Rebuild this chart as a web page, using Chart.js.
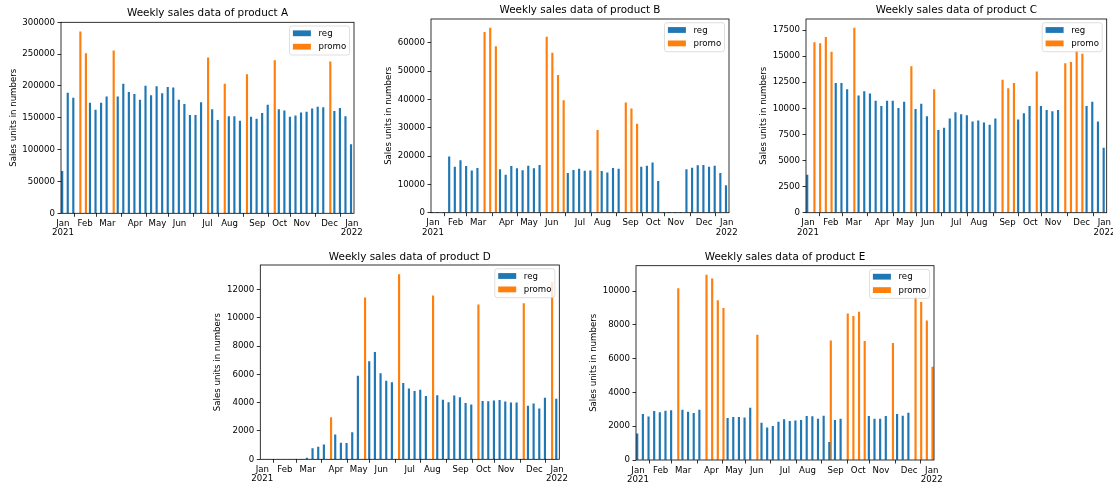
<!DOCTYPE html>
<html><head><meta charset="utf-8">
<script src="https://cdn.jsdelivr.net/npm/chart.js@4.4.1/dist/chart.umd.min.js"></script>
<style>
html,body{margin:0;padding:0;background:#fff;width:1113px;height:488px;overflow:hidden;position:relative}
canvas{position:absolute;left:0;top:0}
</style></head><body>
<script>
const _ = null;
// month tick positions (week index) and labels
const monthWeeks = [0,4,8,13,17,21,26,30,35,39,43,48,52];
const monthLabels = ['Jan','Feb','Mar','Apr','May','Jun','Jul','Aug','Sep','Oct','Nov','Dec','Jan'];
const yearLabels = {0:'2021', 52:'2022'};
const seriesNames = ['reg','promo'];
const yAxisLabel = 'Sales units in numbers';

// Product A (weeks 0..52)
const A_reg = [66000,189000,181000,_,_,173000,162000,173000,183000,_,
  183000,203000,190000,187000,178000,200000,185000,199000,188000,198000,
  197000,178000,171000,154000,154000,174000,_,163000,146000,_,
  152000,152000,145000,_,151000,148000,157000,170000,_,163000,
  161000,151000,153000,158000,159000,164000,167000,166000,_,160000,
  165000,152000,108000];
const A_promo = [_,_,_,285000,251000,_,_,_,_,255000,
  _,_,_,_,_,_,_,_,_,_,
  _,_,_,_,_,_,244000,_,_,203000,
  _,_,_,218000,_,_,_,_,240000,_,
  _,_,_,_,_,_,_,_,238000,_,
  _,_,_];
const A_yTicks = [0,50000,100000,150000,200000,250000,300000];

// Product B
const B_reg = [0,0,0,19700,16100,18400,16400,14800,15700,_,
  _,_,15200,13300,16400,15600,14900,16500,15600,16700,
  _,_,_,_,13900,15000,15400,14700,14800,_,
  14600,14100,15700,15400,_,_,_,16100,16500,17600,
  11100,0,0,0,0,15200,15800,16600,16700,16100,
  16500,13900,9600];
const B_promo = [_,_,_,_,_,_,_,_,_,63700,
  65200,58700,_,_,_,_,_,_,_,_,
  62000,56400,48500,39600,_,_,_,_,_,29100,
  _,_,_,_,38800,36700,31300,_,_,_,
  _,_,_,_,_,_,_,_,_,_,
  _,_,_];
const B_yTicks = [0,10000,20000,30000,40000,50000,60000];

// Product C
const C_reg = [3600,_,_,_,_,12400,12400,11800,_,11200,
  11600,11400,10700,10200,10700,10700,10000,10600,_,9900,
  10400,9200,_,7900,8100,9000,9600,9400,9300,8700,
  8800,8600,8400,9000,_,_,_,8900,9500,10200,
  _,10200,9800,9700,9800,_,_,_,_,10200,
  10600,8700,6200];
const C_promo = [_,16300,16200,16800,15400,_,_,_,17700,_,
  _,_,_,_,_,_,_,_,14000,_,
  _,_,11800,_,_,_,_,_,_,_,
  _,_,_,_,12700,11900,12400,_,_,_,
  13500,_,_,_,_,14300,14400,15500,15200,_,
  _,_,_];
const C_yTicks = [0,2500,5000,7500,10000,12500,15000,17500];

// Product D
const D_reg = [0,0,0,0,0,0,0,0,80,750,
  870,1030,_,1720,1150,1120,1880,5870,_,6900,
  7550,6050,5530,5420,_,5370,4980,4800,4880,4450,
  _,4500,4180,4000,4480,4350,3950,3850,_,4100,
  4080,4130,4170,4050,3980,3980,_,3750,3920,3560,
  4330,_,4250];
const D_promo = [_,_,_,_,_,_,_,_,_,_,
  _,_,2950,_,_,_,_,_,11400,_,
  _,_,_,_,13050,_,_,_,_,_,
  11550,_,_,_,_,_,_,_,10900,_,
  _,_,_,_,_,_,11000,_,_,_,
  _,12500,_];
const D_yTicks = [0,2000,4000,6000,8000,10000,12000];

// Product E
const E_reg = [1550,2700,2550,2880,2800,2900,2930,_,2960,2830,
  2760,2950,_,_,_,_,2460,2530,2530,2490,
  3070,_,2190,1900,2000,2250,2390,2290,2320,2350,
  2590,2570,2420,2600,1050,2350,2420,_,_,_,
  _,2590,2420,2420,2580,_,2700,2600,2780,_,
  _,_,_];
const E_promo = [_,_,_,_,_,_,_,10150,_,_,
  _,_,10950,10720,9430,8970,_,_,_,_,
  _,7400,_,_,_,_,_,_,_,_,
  _,_,_,_,7050,_,_,8650,8500,8750,
  7020,_,_,_,_,6900,_,_,_,9650,
  9330,8230,5500];
const E_yTicks = [0,2000,4000,6000,8000,10000];

const COLORS = ['#1f77b4','#ff7f0e'];
const FONT = 'DejaVu Sans';
const W = 1113, H = 520;

const panels = [
  {title:'Weekly sales data of product A', reg:A_reg, promo:A_promo, yMax:300000, yTicks:A_yTicks, l:61, t:22.3, r:354, b:213.3, titleY:13.3, ylabX:13.3},
  {title:'Weekly sales data of product B', reg:B_reg, promo:B_promo, yMax:68400, yTicks:B_yTicks, l:431, t:19, r:729, b:212.7, titleY:10, ylabX:388.3},
  {title:'Weekly sales data of product C', reg:C_reg, promo:C_promo, yMax:18560, yTicks:C_yTicks, l:806, t:19, r:1106.7, b:212.7, titleY:10, ylabX:763.3},
  {title:'Weekly sales data of product D', reg:D_reg, promo:D_promo, yMax:13720, yTicks:D_yTicks, l:260.3, t:265, r:559.3, b:459.3, titleY:257.3, ylabX:217.7},
  {title:'Weekly sales data of product E', reg:E_reg, promo:E_promo, yMax:11500, yTicks:E_yTicks, l:636, t:265.7, r:934, b:460, titleY:257.3, ylabX:593.3}
];

function roundRect(ctx, x, y, w, h, r){
  ctx.beginPath();
  ctx.moveTo(x+r,y); ctx.lineTo(x+w-r,y); ctx.quadraticCurveTo(x+w,y,x+w,y+r);
  ctx.lineTo(x+w,y+h-r); ctx.quadraticCurveTo(x+w,y+h,x+w-r,y+h);
  ctx.lineTo(x+r,y+h); ctx.quadraticCurveTo(x,y+h,x,y+h-r);
  ctx.lineTo(x,y+r); ctx.quadraticCurveTo(x,y,x+r,y); ctx.closePath();
}

const deco = {
  id:'deco',
  afterDatasetsDraw(chart){
    const {ctx, chartArea:a} = chart;
    ctx.save();
    ctx.strokeStyle = '#000'; ctx.lineWidth = 0.8;
    ctx.strokeRect(a.left, a.top, a.right-a.left, a.bottom-a.top);
    // legend
    const bw = 60, bh = 29;
    const bx = a.right - 4.5 - bw, by = a.top + 3.7;
    roundRect(ctx, bx, by, bw, bh, 2.5);
    ctx.fillStyle = 'rgba(255,255,255,0.8)'; ctx.fill();
    ctx.strokeStyle = 'rgba(204,204,204,0.8)'; ctx.lineWidth = 0.8; ctx.stroke();
    ctx.font = '8.6px "' + FONT + '"';
    ctx.textBaseline = 'middle'; ctx.textAlign = 'left';
    seriesNames.forEach((n,i)=>{
      const cy = by + 7.3 + i*13.4;
      ctx.fillStyle = COLORS[i];
      ctx.fillRect(bx+3.4, cy-2.9, 18, 5.8);
      ctx.fillStyle = '#000';
      ctx.fillText(n, bx+29, cy+0.3);
    });
    ctx.restore();
  },
  afterDraw(chart){
    const {ctx, chartArea:a} = chart;
    const p = chart.options.plugins.deco;
    ctx.save();
    ctx.fillStyle = '#000';
    ctx.textAlign = 'center'; ctx.textBaseline = 'middle';
    ctx.font = '10.4px "' + FONT + '"';
    ctx.fillText(p.title, (a.left+a.right)/2, p.titleY);
    ctx.translate(p.ylabX, (a.top+a.bottom)/2);
    ctx.rotate(-Math.PI/2);
    ctx.font = '8.6px "' + FONT + '"';
    ctx.fillText(yAxisLabel, 0, 0);
    ctx.restore();
  }
};

panels.forEach(pn=>{
  const cv = document.createElement('canvas');
  cv.width = W; cv.height = H;
  cv.style.width = W+'px'; cv.style.height = H+'px';
  document.body.appendChild(cv);
  const weeks = pn.reg.map((_,i)=>i);
  const gridOpt = {display:true, drawOnChartArea:false, drawTicks:true, tickLength:3.5, tickColor:'#000', tickWidth:0.8};
  new Chart(cv.getContext('2d'), {
    type:'bar',
    data:{
      datasets:[
        {label:seriesNames[0], data:weeks.map(i=>({x:i, y:pn.reg[i]})), backgroundColor:COLORS[0], borderWidth:0, barThickness:1.5},
        {label:seriesNames[1], data:weeks.map(i=>({x:i, y:pn.promo[i]})), backgroundColor:COLORS[1], borderWidth:0, barThickness:1.5}
      ]
    },
    options:{
      responsive:false, animation:false, devicePixelRatio:1,
      events:[],
      layout:{padding:{left:pn.l-55, top:pn.t, right:W-pn.r, bottom:H-pn.b-32}},
      plugins:{legend:{display:false}, title:{display:false}, tooltip:{enabled:false},
        deco:{title:pn.title, titleY:pn.titleY, ylabX:pn.ylabX}},
      scales:{
        x:{type:'linear', min:-0.35, max:52.4, offset:false,
          grid:gridOpt, border:{display:false},
          ticks:{autoSkip:false, maxRotation:0, minRotation:0, padding:2, color:'#000',
            font:{family:FONT, size:8.6, lineHeight:1.12},
            callback:(v)=>{const k=monthWeeks.indexOf(v); if(k<0) return ''; return yearLabels[v]?[monthLabels[k], yearLabels[v]]:monthLabels[k];}},
          afterBuildTicks:(s)=>{s.ticks = monthWeeks.map(v=>({value:v}));},
          afterFit:(s)=>{s.height=32; s.paddingLeft=0; s.paddingRight=0;}
        },
        y:{type:'linear', min:0, max:pn.yMax,
          grid:gridOpt, border:{display:false},
          ticks:{padding:2.5, color:'#000', font:{family:FONT, size:8.6}, callback:(v)=>String(v)},
          afterBuildTicks:(s)=>{s.ticks = pn.yTicks.map(v=>({value:v}));},
          afterFit:(s)=>{s.width=55;}
        }
      }
    },
    plugins:[deco]
  });
});
</script>
</body></html>
